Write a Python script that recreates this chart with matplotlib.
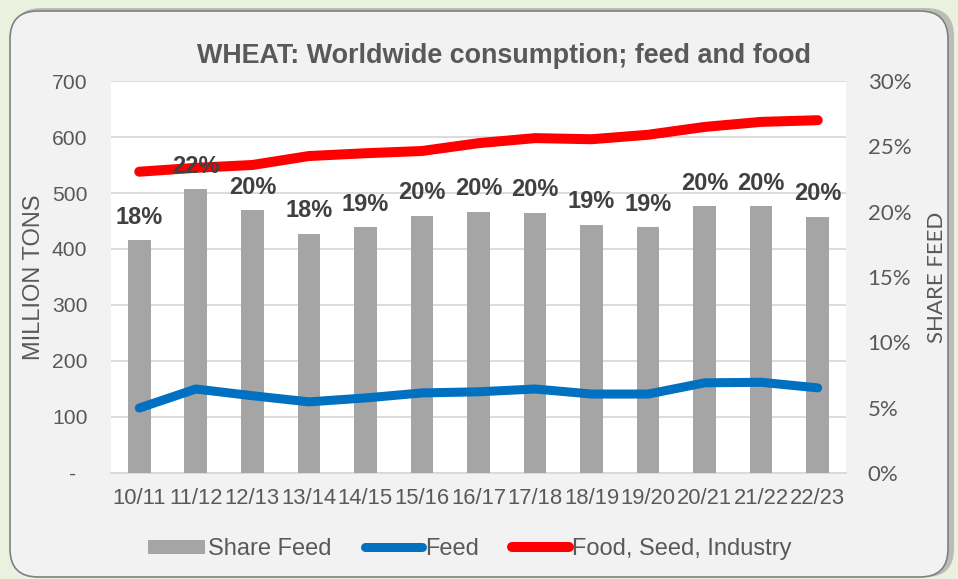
import matplotlib
matplotlib.use("Agg")
from matplotlib import pyplot as plt
from matplotlib.patches import FancyBboxPatch
from matplotlib.ticker import FuncFormatter, MultipleLocator

seasons = ["10/11", "11/12", "12/13", "13/14", "14/15", "15/16", "16/17",
           "17/18", "18/19", "19/20", "20/21", "21/22", "22/23"]
feed = [116, 150, 138, 127, 134, 143, 145, 150, 141, 141, 161, 162, 152]
food_seed_industry = [538, 545, 550, 566, 571, 575, 589, 598, 596, 604, 618, 627, 630]
share_feed = [17.8, 21.7, 20.1, 18.3, 18.8, 19.7, 20.0, 19.9, 19.0, 18.8, 20.4, 20.4, 19.6]

TXT = "#595959"
ARIAL = ["Liberation Sans", "DejaVu Sans"]
CALIBRI = ["Lato", "DejaVu Sans"]

W, H = 958, 579
fig = plt.figure(figsize=(W / 100, H / 100), dpi=100)
fig.patch.set_facecolor("#EAF1DE")

# rounded chart box behind everything
bg = fig.add_axes([0, 0, 1, 1])
bg.set_xlim(0, W)
bg.set_ylim(H, 0)
bg.axis("off")
bg.add_patch(FancyBboxPatch((13, 8), 941, 569, boxstyle="round,pad=0,rounding_size=28",
                            fc="#9a9a9a", ec="none", alpha=0.6))
bg.add_patch(FancyBboxPatch((10, 11), 938, 566, boxstyle="round,pad=0,rounding_size=28",
                            fc="#F2F2F2", ec="#808080", lw=1.2))

rect = [111 / W, 106 / H, 735 / W, 392 / H]

# left axis: grid + tick labels
ax = fig.add_axes(rect)
ax.set_facecolor("white")
ax.set_xlim(-0.5, len(seasons) - 0.5)
ax.set_ylim(0, 700)
ax.yaxis.set_major_locator(MultipleLocator(100))
ax.yaxis.set_major_formatter(FuncFormatter(lambda v, p: "-  " if v == 0 else f"{v:.0f}"))
ax.grid(axis="y", color="#D9D9D9", lw=1.3)
ax.set_axisbelow(True)
for s in ["top", "right", "left"]:
    ax.spines[s].set_visible(False)
ax.spines["bottom"].set_color("#D9D9D9")
ax.spines["bottom"].set_linewidth(1.3)
ax.tick_params(axis="both", length=0, colors=TXT)
ax.tick_params(axis="y", pad=17, labelsize=15.2)
ax.tick_params(axis="x", pad=11, labelsize=15.8)
ax.set_xticks(range(len(seasons)))
ax.set_xticklabels(seasons)
for lab in ax.get_xticklabels() + ax.get_yticklabels():
    lab.set_family(ARIAL)
ax.set_ylabel("MILLION TONS", color=TXT, fontsize=17, family=ARIAL)
ax.yaxis.set_label_coords(-0.09, 0.5)

# right axis: share feed bars
ax2 = ax.twinx()
ax2.patch.set_visible(False)
ax2.set_ylim(0, 30)
ax2.yaxis.set_major_locator(MultipleLocator(5))
ax2.yaxis.set_major_formatter(FuncFormatter(lambda v, p: f"{v:.0f}%"))
for s in ax2.spines.values():
    s.set_visible(False)
ax2.tick_params(axis="y", length=0, colors=TXT, labelsize=16, pad=15.5)
for lab in ax2.get_yticklabels():
    lab.set_family(CALIBRI)
ax2.set_ylabel("SHARE FEED", color=TXT, fontsize=16, family=CALIBRI)
ax2.yaxis.set_label_coords(1.110, 0.5)
bars = ax2.bar(range(len(seasons)), share_feed, width=0.4, color="#A5A5A5",
               label="Share Feed")

# lines on left scale, drawn above bars
ax3 = fig.add_axes(rect, sharex=ax, sharey=ax)
ax3.patch.set_visible(False)
ax3.axis("off")
l1, = ax3.plot(range(len(seasons)), feed, color="#0070C0", lw=6.5,
               solid_capstyle="round", solid_joinstyle="round", label="Feed")
l2, = ax3.plot(range(len(seasons)), food_seed_industry, color="#FF0000", lw=7.2,
               solid_capstyle="round", solid_joinstyle="round", label="Food, Seed, Industry")

for i, v in enumerate(share_feed):
    ax3.annotate(f"{v:.0f}%", xy=(i, v), xycoords=ax2.transData,
                 xytext=(0, 12), textcoords="offset points", ha="center",
                 va="baseline", fontsize=17, fontweight="bold", color="#404040",
                 family=ARIAL)

fig.text(504 / W, 1 - 63 / H, "WHEAT: Worldwide consumption; feed and food",
         ha="center", va="baseline", fontsize=19.4, fontweight="bold", color=TXT,
         family=ARIAL)

leg = fig.legend([bars, l1, l2], ["Share Feed", "Feed", "Food, Seed, Industry"],
                 loc="center", bbox_to_anchor=(470 / W, 1 - 549 / H), ncol=3,
                 frameon=False, handlelength=2.4, handleheight=0.55,
                 handletextpad=0.15, columnspacing=1.4,
                 prop={"family": ARIAL, "size": 17})
for t in leg.get_texts():
    t.set_color(TXT)

plt.savefig("out.png", dpi=100, facecolor=fig.get_facecolor())
